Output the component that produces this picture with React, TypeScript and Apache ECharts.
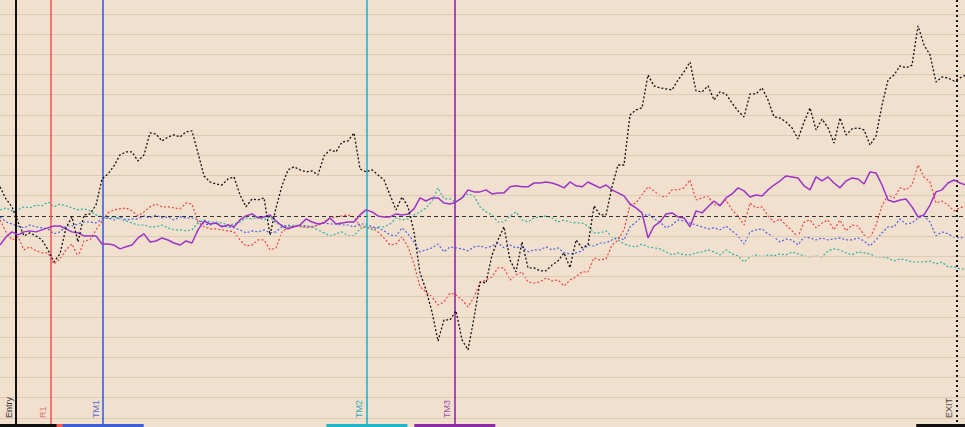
import React, { useEffect, useRef } from "react";
import * as echarts from "echarts";

// Series values (units: one grid step = 1, dashed reference line = 0), one point per time step
const blackValues = [
  1.44,0.84,0.45,-0.30,-0.99,-0.84,-0.99,-1.19,-1.68,-2.28,
  -1.88,-0.59,-0.05,-1.29,0.05,0.10,0.54,1.83,2.08,2.48,
  3.02,3.17,3.17,2.72,3.02,4.11,4.06,3.71,3.91,4.01,
  3.91,4.16,4.21,3.12,1.98,1.68,1.58,1.53,1.83,1.93,
  1.04,0.45,0.84,0.79,0.89,-0.94,0.40,1.49,2.28,2.43,
  2.28,2.18,2.23,2.03,2.97,3.27,3.17,3.66,3.71,4.11,
  2.33,2.18,2.28,2.03,1.78,1.04,0.30,0.94,0.45,-0.79,
  -2.82,-3.66,-4.75,-6.19,-5.15,-5.15,-4.70,-6.14,-6.63,-5.05,
  -3.27,-3.32,-1.93,-1.19,-0.54,-2.18,-2.77,-1.29,-2.57,-2.57,
  -2.72,-2.72,-2.43,-2.23,-1.83,-2.57,-1.19,-1.58,-1.44,0.50,
  0.05,0.05,1.44,2.52,2.52,5.00,5.25,5.35,6.98,6.44,
  6.34,6.29,6.24,6.73,7.13,7.62,6.19,6.14,6.44,5.74,
  6.14,6.04,5.59,5.20,4.90,6.04,6.04,6.34,5.74,4.90,
  4.85,4.65,4.36,3.81,4.65,5.35,4.26,4.80,4.36,3.61,
  4.85,4.01,4.31,4.36,4.26,3.51,3.96,5.49,6.73,6.98,
  7.43,7.33,7.47,9.41,8.46,7.97,6.63,6.88,6.83,6.68,
  6.83,6.98,
];

const redValues = [
  -0.20,-0.79,-1.19,-1.04,-1.68,-1.53,-1.73,-1.83,-1.83,-2.38,
  -2.13,-1.68,-1.39,-2.03,-1.24,-1.19,-0.69,-0.25,0.15,0.30,
  0.35,0.40,0.25,0,0.20,0.45,0.59,0.45,0.45,0.40,
  0.35,0.64,0.59,-0.30,-0.54,-0.64,-0.64,-0.69,-0.74,-0.79,
  -1.19,-1.49,-1.44,-1.19,-1.19,-1.68,-1.58,-0.79,-0.59,-0.50,
  -0.50,-0.59,-0.54,-0.45,-0.30,-0.10,-0.05,0,0.05,-0.05,
  -0.50,-0.59,-0.59,-0.79,-1.09,-1.44,-1.39,-1.04,-1.53,-2.38,
  -3.51,-3.76,-4.01,-4.41,-4.26,-3.81,-3.91,-4.16,-4.50,-4.01,
  -3.32,-3.17,-3.02,-2.57,-2.57,-3.17,-2.92,-2.77,-3.27,-3.32,
  -3.27,-3.07,-3.22,-3.17,-3.47,-3.17,-3.02,-2.77,-2.77,-2.08,
  -2.18,-2.13,-1.44,-1.19,-0.69,0.54,0.64,1.04,1.44,1.24,
  0.99,0.94,1.29,1.29,1.39,1.78,0.79,0.89,0.99,0.54,
  0.54,0.79,0.30,0,-0.45,0.64,0.40,0.45,0,-0.30,
  -0.15,-0.45,-0.74,-1.04,-0.30,-0.20,-0.59,-0.35,-0.20,-0.69,
  -0.20,-0.74,-0.45,-0.50,-0.94,-1.09,-0.45,0.50,1.04,0.89,
  1.39,1.29,1.53,2.52,1.93,1.68,0.64,0.74,0.54,0.25,
  0.40,0.50,
];

const blueValues = [
  -0.05,-0.30,-0.40,-0.50,-0.59,-0.45,-0.54,-0.59,-0.64,-0.89,
  -0.79,-0.50,-0.50,-0.40,-0.30,-0.30,-0.35,-0.15,-0.10,-0.20,
  -0.05,-0.20,-0.15,-0.15,0,-0.10,0.05,-0.10,-0.05,-0.20,
  -0.05,-0.10,-0.10,-0.20,-0.40,-0.45,-0.35,-0.50,-0.54,-0.59,
  -0.69,-0.84,-0.74,-0.79,-0.69,-0.84,-0.79,-0.54,-0.45,-0.54,
  -0.45,-0.50,-0.54,-0.45,-0.35,-0.40,-0.40,-0.45,-0.45,-0.54,
  -0.40,-0.40,-0.54,-0.59,-0.74,-0.94,-0.99,-0.59,-0.89,-1.29,
  -1.78,-1.68,-1.58,-1.39,-1.78,-1.53,-1.58,-1.63,-1.73,-1.53,
  -1.49,-1.58,-1.49,-1.34,-1.58,-1.44,-1.58,-1.53,-1.78,-1.68,
  -1.68,-1.53,-1.68,-1.58,-1.83,-1.88,-1.83,-1.73,-1.44,-1.49,
  -1.34,-1.34,-1.19,-1.04,-1.19,-0.54,-0.30,-0.05,0.10,-0.15,
  -0.30,-0.59,-0.45,-0.20,-0.25,-0.35,-0.45,-0.54,-0.64,-0.59,
  -0.69,-0.50,-0.74,-0.99,-1.39,-0.79,-0.69,-0.64,-0.89,-1.04,
  -1.29,-1.14,-1.19,-1.44,-1.04,-1.09,-1.19,-1.09,-1.19,-1.14,
  -1.09,-1.19,-1.19,-1.09,-1.24,-1.49,-1.19,-0.84,-0.54,-0.54,
  -0.15,-0.40,-0.35,-0.10,0,-0.30,-0.99,-0.79,-0.89,-1.04,
  -1.09,-1.04,
];

const tealValues = [
  0.30,0.40,0.25,0.30,0.45,0.40,0.54,0.50,0.69,0.45,
  0.59,0.50,0.40,0.30,0.35,0.25,0.05,-0.05,-0.10,-0.05,
  -0.15,-0.25,-0.35,-0.45,-0.45,-0.54,-0.54,-0.45,-0.59,-0.69,
  -0.69,-0.74,-0.69,-0.35,-0.20,-0.30,-0.30,-0.35,-0.45,-0.40,
  -0.30,-0.10,-0.15,-0.05,-0.20,-0.05,-0.35,-0.45,-0.54,-0.45,
  -0.54,-0.50,-0.54,-0.69,-0.84,-0.99,-0.89,-0.79,-0.99,-0.99,
  -0.64,-0.50,-0.69,-0.54,-0.54,-0.40,-0.10,-0.20,-0.15,0.05,
  0.20,0.40,0.74,1.39,0.84,0.84,0.69,0.89,1.09,0.99,
  0.45,0.20,0.05,-0.30,-0.30,0,0.20,-0.20,-0.30,-0.10,
  -0.05,0,-0.10,-0.30,-0.20,-0.30,-0.35,-0.35,-0.50,-0.84,
  -0.84,-0.74,-1.04,-1.19,-1.39,-1.49,-1.53,-1.39,-1.53,-1.58,
  -1.63,-1.78,-1.93,-1.83,-1.93,-1.93,-1.83,-1.78,-1.68,-1.78,
  -1.93,-1.68,-1.88,-1.98,-2.28,-2.03,-1.93,-2.03,-1.93,-1.98,
  -1.88,-1.93,-1.78,-1.88,-1.98,-2.03,-1.98,-2.03,-1.73,-1.63,
  -1.68,-1.83,-1.93,-1.78,-1.83,-1.88,-2.03,-2.03,-2.08,-2.23,
  -2.13,-2.18,-2.28,-2.28,-2.28,-2.23,-2.38,-2.28,-2.52,-2.52,
  -2.62,-2.62,
];

const purpleValues = [
  -1.44,-1.04,-0.79,-0.94,-0.79,-0.74,-0.79,-0.69,-0.59,-0.50,
  -0.50,-0.64,-0.79,-0.84,-0.99,-0.99,-0.99,-1.39,-1.39,-1.44,
  -1.63,-1.53,-1.44,-1.09,-0.89,-1.29,-1.24,-1.09,-1.19,-1.34,
  -1.44,-1.24,-1.34,-0.69,-0.25,-0.40,-0.35,-0.54,-0.45,-0.54,
  -0.20,0,0.10,-0.10,-0.05,0.05,-0.25,-0.50,-0.64,-0.54,
  -0.45,-0.15,-0.30,-0.40,-0.35,-0.10,-0.40,-0.35,-0.30,-0.30,
  0.05,0.30,0.20,0,-0.05,-0.05,0.10,0.05,0.10,0.35,
  0.89,0.74,0.89,0.89,0.64,0.59,0.69,0.89,1.29,1.19,
  1.19,1.29,1.09,1.14,1.14,1.44,1.49,1.44,1.44,1.63,
  1.63,1.68,1.63,1.53,1.39,1.68,1.49,1.44,1.68,1.53,
  1.39,1.53,1.29,1.14,0.99,0.59,0.40,0.15,-1.09,-0.50,
  -0.30,0.10,0.15,-0.05,-0.10,-0.54,0.25,0.15,0.45,0.74,
  0.50,0.89,1.09,1.39,1.24,0.94,1.04,0.99,1.29,1.53,
  1.73,1.98,1.93,1.88,1.49,1.29,1.93,1.73,1.93,1.63,
  1.39,1.73,1.88,1.83,1.58,2.18,2.13,1.53,0.79,0.69,
  0.79,0.84,0.45,-0.05,0.05,0.54,1.19,1.29,1.63,1.78,
  1.63,1.53,
];

// Event markers (time-step positions) and their window half-width
const markerNames = ["Entry", "R1", "TM1", "TM2", "TM3", "EXIT"];
const markerPositions = [2.67, 8.45, 17.2, 61.15, 75.8, 159.45];
const markerWindow = 6.75;

// Horizontal grid levels
const gridLevels = [-10, -9, -8, -7, -6, -5, -4, -3, -2, -1, 1, 2, 3, 4, 5, 6, 7, 8, 9, 10];
const referenceLevel = 0;

// Axis extents
const X_MIN = 0;
const X_MAX = 160.83;
const Y_MIN = -10.45;
const Y_MAX = 10.69;
const WINDOW_BAR_LEVEL = -10.37;

const markerStyles: Record<string, { line: string; label: string; type: any; width: number }> = {
  Entry: { line: "#111111", label: "#333333", type: "solid", width: 2 },
  R1: { line: "#f05a5a", label: "#e07070", type: "solid", width: 1.6 },
  TM1: { line: "#3f5fd6", label: "#5a70d0", type: "solid", width: 1.6 },
  TM2: { line: "#1fb5c8", label: "#30a8b8", type: "solid", width: 1.6 },
  TM3: { line: "#8e2aa6", label: "#9a50b0", type: "solid", width: 1.6 },
  EXIT: { line: "#111111", label: "#444444", type: [2, 3], width: 2 },
};

const barOrder = ["R1", "Entry", "TM1", "TM2", "TM3", "EXIT"];

function toPoints(values: number[]) {
  return values.map((v, i) => [i, v]);
}

export default function App() {
  const ref = useRef<HTMLDivElement>(null);

  useEffect(() => {
    if (!ref.current) return;
    const chart = echarts.init(ref.current, undefined, { renderer: "svg" });

    const lineSeries = (name: string, values: number[], color: string, type: any, width: number, z: number) => ({
      name,
      type: "line",
      data: toPoints(values),
      showSymbol: false,
      symbol: "none",
      silent: true,
      z,
      lineStyle: { color, width, type },
    });

    const option: any = {
      animation: false,
      backgroundColor: "#f2e0ce",
      grid: { left: 0, right: 0, top: 0, bottom: 0 },
      xAxis: { type: "value", min: X_MIN, max: X_MAX, show: false },
      yAxis: { type: "value", min: Y_MIN, max: Y_MAX, show: false },
      series: [
        {
          name: "grid",
          type: "line",
          data: [],
          silent: true,
          z: 0,
          markLine: {
            silent: true,
            symbol: ["none", "none"],
            animation: false,
            label: { show: false },
            lineStyle: { color: "#dfcab6", width: 1, type: "solid" },
            data: gridLevels.map((v) => ({ yAxis: v })),
          },
        },
        {
          name: "reference",
          type: "line",
          data: [],
          silent: true,
          z: 1,
          markLine: {
            silent: true,
            symbol: ["none", "none"],
            animation: false,
            label: { show: false },
            lineStyle: { color: "#333333", width: 1, type: [4, 3] },
            data: [{ yAxis: referenceLevel }],
          },
        },
        lineSeries("teal", tealValues, "#2bb3a3", [2, 2], 1.2, 2),
        lineSeries("blue", blueValues, "#4b62e0", [2, 2], 1.2, 3),
        lineSeries("red", redValues, "#ee4444", [2, 2], 1.2, 4),
        lineSeries("purple", purpleValues, "#9b35c6", "solid", 1.5, 5),
        lineSeries("black", blackValues, "#111111", [2, 2], 1.3, 6),
        {
          name: "markers",
          type: "line",
          data: [],
          silent: true,
          z: 8,
          markLine: {
            silent: true,
            symbol: ["none", "none"],
            animation: false,
            data: markerNames.map((n, i) => ({
              xAxis: markerPositions[i],
              lineStyle: { color: markerStyles[n].line, width: markerStyles[n].width, type: markerStyles[n].type },
              label: {
                show: true,
                position: "insideStartTop",
                formatter: n,
                color: markerStyles[n].label,
                fontSize: 9,
                fontFamily: "Liberation Sans, Arial, sans-serif",
                distance: [9, 3],
              },
            })),
          },
        },
        {
          name: "windows",
          type: "line",
          data: [],
          silent: true,
          z: 9,
          markLine: {
            silent: true,
            symbol: ["none", "none"],
            animation: false,
            label: { show: false },
            data: barOrder.map((n) => {
              const i = markerNames.indexOf(n);
              const c = markerStyles[n].line;
              const start = Math.max(X_MIN, markerPositions[i] - markerWindow);
              const end = Math.min(X_MAX, markerPositions[i] + markerWindow);
              return [
                { coord: [start, WINDOW_BAR_LEVEL], lineStyle: { color: c, width: 3, type: "solid" } },
                { coord: [end, WINDOW_BAR_LEVEL] },
              ];
            }),
          },
        },
      ],
    };

    chart.setOption(option);
    return () => chart.dispose();
  }, []);

  return (
    <div
      ref={ref}
      style={{ position: "fixed", left: 0, top: 0, width: 965, height: 427 }}
    />
  );
}
